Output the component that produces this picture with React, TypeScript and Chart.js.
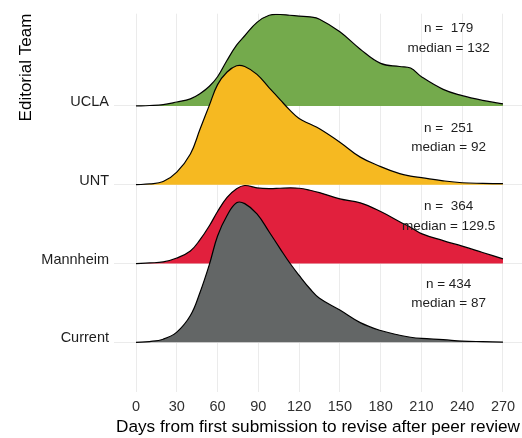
import React, { useEffect, useRef } from "react";
import { Chart, registerables } from "chart.js";

Chart.register(...registerables);

// ---- data ----
const teams = ["Current", "Mannheim", "UNT", "UCLA"];
const days = [0, 10, 20, 30, 40, 47, 54, 60, 67, 74, 80, 89, 98, 106, 113, 120, 128, 135, 150, 165, 180, 194, 202, 210, 226, 240, 255, 270];
const currentDensity = [0, 0.01, 0.04, 0.13, 0.34, 0.63, 0.99, 1.35, 1.61, 1.77, 1.76, 1.63, 1.4, 1.19, 1.01, 0.85, 0.68, 0.56, 0.41, 0.25, 0.15, 0.09, 0.065, 0.05, 0.034, 0.016, 0.009, 0.004];
const mannheimDensity = [0, 0.008, 0.02, 0.07, 0.16, 0.3, 0.48, 0.66, 0.84, 0.95, 0.99, 0.96, 0.95, 0.955, 0.96, 0.955, 0.93, 0.9, 0.82, 0.77, 0.66, 0.53, 0.46, 0.38, 0.29, 0.22, 0.14, 0.06];
const untDensity = [0, 0.01, 0.04, 0.16, 0.39, 0.7, 1.01, 1.27, 1.43, 1.51, 1.5, 1.4, 1.23, 1.08, 0.95, 0.84, 0.77, 0.71, 0.54, 0.35, 0.23, 0.14, 0.11, 0.09, 0.05, 0.025, 0.017, 0.013];
const uclaDensity = [0, 0.005, 0.016, 0.05, 0.09, 0.155, 0.25, 0.37, 0.58, 0.77, 0.89, 1.06, 1.15, 1.16, 1.15, 1.14, 1.13, 1.1, 0.94, 0.72, 0.54, 0.5, 0.48, 0.37, 0.21, 0.13, 0.07, 0.025];
const nLabels = ["n = 434", "n =  364", "n =  251", "n =  179"];
const medianLabels = ["median = 87", "median = 129.5", "median = 92", "median = 132"];
const xTicks = [0, 30, 60, 90, 120, 150, 180, 210, 240, 270];

const densities = [currentDensity, mannheimDensity, untDensity, uclaDensity];

// ---- styles / layout ----
const colors = ["#636666", "#E1203D", "#F6B921", "#74AA4C"];
const FONT = "'Liberation Sans', Arial, Helvetica, sans-serif";
const annot = { day: 230, nOffset: [0.74, 0.73, 0.72, 0.98], medOffset: [0.49, 0.475, 0.47, 0.735] };

const annotationPlugin = {
  id: "ridgeAnnotations",
  afterDatasetsDraw(chart: any) {
    const { ctx, scales } = chart;
    const xs = scales.x;
    const ys = scales.y;
    ctx.save();
    ctx.font = `13.5px ${FONT}`;
    ctx.fillStyle = "#1e1e1e";
    ctx.textAlign = "center";
    ctx.textBaseline = "middle";
    teams.forEach((_, i) => {
      const px = xs.getPixelForValue(annot.day);
      ctx.fillText(nLabels[i], px, ys.getPixelForValue(i + annot.nOffset[i]));
      ctx.fillText(medianLabels[i], px, ys.getPixelForValue(i + annot.medOffset[i]));
    });
    ctx.restore();
  },
};

export default function App() {
  const ref = useRef<HTMLCanvasElement>(null);

  useEffect(() => {
    if (!ref.current) return;
    Chart.defaults.font.family = FONT;
    const datasets = teams.map((team, i) => ({
      label: team,
      data: days.map((d, k) => ({ x: d, y: i + densities[i][k] })),
      fill: { value: i },
      backgroundColor: colors[i],
      borderColor: "#000000",
      borderWidth: 1.2,
      pointRadius: 0,
      tension: 0.4,
    }));
    const chart = new Chart(ref.current, {
      type: "line",
      data: { datasets },
      options: {
        animation: false,
        responsive: false,
        layout: { padding: { top: 11, left: 0, right: 0, bottom: 0 } },
        plugins: { legend: { display: false }, tooltip: { enabled: false } },
        scales: {
          x: {
            type: "linear",
            min: -16.2,
            max: 284,
            afterBuildTicks: (s: any) => {
              s.ticks = xTicks.map((v) => ({ value: v }));
            },
            afterFit: (s: any) => {
              s.height = 46;
            },
            grid: { color: "#EBEBEB", lineWidth: 1, drawTicks: false },
            border: { display: false },
            ticks: { color: "#303030", font: { size: 14.5 }, padding: 6, maxRotation: 0 },
            title: {
              display: true,
              text: "Days from first submission to revise after peer review",
              color: "#000000",
              font: { size: 17.2 },
              padding: { top: 0, bottom: 0.5 },
            },
          },
          y: {
            type: "linear",
            min: -0.63,
            max: 4.17,
            afterBuildTicks: (s: any) => {
              s.ticks = teams.map((_, i) => ({ value: i }));
            },
            afterFit: (s: any) => {
              s.width = 114;
            },
            grid: { color: "#EBEBEB", lineWidth: 1, drawTicks: false },
            border: { display: false },
            ticks: {
              color: "#1e1e1e",
              font: { size: 14.5 },
              padding: 5,
              labelOffset: -4,
              callback: (v: any) => teams[Number(v)] ?? "",
            },
            title: {
              display: true,
              text: "Editorial Team",
              align: "end",
              color: "#000000",
              font: { size: 17 },
              padding: { top: 16, bottom: 0 },
            },
          },
        },
      },
      plugins: [annotationPlugin],
    });
    return () => chart.destroy();
  }, []);

  return (
    <div style={{ position: "fixed", left: 0, top: 0, width: 522, height: 438, background: "#fff" }}>
      <canvas ref={ref} width={522} height={438} />
    </div>
  );
}
